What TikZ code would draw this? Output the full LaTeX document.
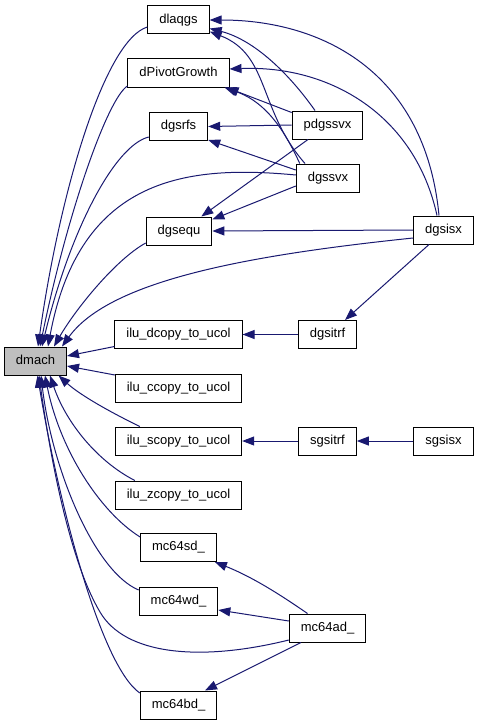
\documentclass[tikz,border=0pt]{standalone}
\usepackage{fontspec}
\setmainfont{Liberation Sans}
\usetikzlibrary{arrows.meta}
\definecolor{edgeblue}{HTML}{191970}
\tikzset{
  fn/.style={draw=black, line width=1pt, fill=white, minimum height=28pt,
    inner xsep=11.5pt, inner ysep=0pt, text height=9.5pt, text depth=2.8pt,
    font=\fontsize{13pt}{15pt}\selectfont},
  call/.style={draw=edgeblue, line width=1pt, -{Triangle[length=12pt,width=9pt]}},
}
\begin{document}
\begin{tikzpicture}[x=1pt, y=-1pt]
        \useasboundingbox (0,0) rectangle (480,725);

        \node[fn, fill=gray!50] (dmach) at (35.5,361) {dmach};
        \node[fn] (dlaqgs) at (178.5,20) {dlaqgs};
        \node[fn] (dPivotGrowth) at (178.5,73) {dPivotGrowth};
        \node[fn] (dgsrfs) at (178.5,126.5) {dgsrfs};
        \node[fn] (dgsequ) at (179,231) {dgsequ};
        \node[fn] (pdgssvx) at (327.5,125) {pdgssvx};
        \node[fn] (dgssvx) at (328,178) {dgssvx};
        \node[fn] (dgsisx) at (443.5,230) {dgsisx};
        \node[fn] (iludcopy) at (178.5,334.5) {ilu\_dcopy\_to\_ucol};
        \node[fn] (dgsitrf) at (327.5,334.5) {dgsitrf};
        \node[fn] (iluccopy) at (178.5,388) {ilu\_ccopy\_to\_ucol};
        \node[fn] (iluscopy) at (178.5,441) {ilu\_scopy\_to\_ucol};
        \node[fn] (sgsitrf) at (327.5,441) {sgsitrf};
        \node[fn] (sgsisx) at (443.5,441) {sgsisx};
        \node[fn] (iluzcopy) at (178.5,495) {ilu\_zcopy\_to\_ucol};
        \node[fn] (mcsd) at (178.5,547.5) {mc64sd\_};
        \node[fn] (mcwd) at (178.5,601) {mc64wd\_};
        \node[fn] (mcad) at (327.5,628) {mc64ad\_};
        \node[fn] (mcbd) at (178.5,705) {mc64bd\_};

        % callers of dmach, from above
        \draw[call] ([yshift=-7pt]dlaqgs.west) .. controls (105,40) and (60,190) .. ([xshift=2.5pt]dmach.north);
        \draw[call] ([yshift=-13pt]dPivotGrowth.west) .. controls (108,98) and (68,210) .. ([xshift=4.5pt]dmach.north);
        \draw[call] ([yshift=-10.5pt]dgsrfs.west) .. controls (115,145) and (70,230) .. ([xshift=6.5pt]dmach.north);
        \draw[call] ([yshift=3pt]dgssvx.west) .. controls (190,165) and (80,175) .. ([xshift=12.5pt]dmach.north);
        \draw[call] ([yshift=-12pt]dgsequ.west) .. controls (115,260) and (75,310) .. ([xshift=18.5pt]dmach.north);
        \draw[call] ([yshift=-8pt]dgsisx.west) .. controls (250,255) and (110,280) .. ([xshift=26.5pt]dmach.north);

        % from the side
        \draw[call] ([yshift=-12pt]iludcopy.west) -- ([yshift=5pt]dmach.east);
        \draw[call] ([yshift=13pt]iluccopy.west) -- ([yshift=-5pt]dmach.east);

        % from below
        \draw[call] ([xshift=25pt]iluscopy.north west) .. controls (110,412) and (80,395) .. ([xshift=23pt]dmach.south);
        \draw[call] ([xshift=20pt]iluzcopy.north west) .. controls (95,460) and (65,420) .. ([xshift=14.5pt]dmach.south);
        \draw[call] ([yshift=10.5pt]mcsd.west) .. controls (100,512) and (60,450) .. ([xshift=9.5pt]dmach.south);
        \draw[call] ([yshift=11pt]mcwd.west) .. controls (95,572) and (52,470) .. ([xshift=5.5pt]dmach.south);
        \draw[call] ([yshift=-12pt]mcad.west) .. controls (200,662) and (125,655) .. (100,612)
            .. controls (72,565) and (52,470) .. ([xshift=3.5pt]dmach.south);
        \draw[call] ([yshift=12pt]mcbd.west) .. controls (100,665) and (58,500) .. ([xshift=2pt]dmach.south);

        % driver routines
        \draw[call] ([xshift=-12.5pt]pdgssvx.north) .. controls (290,75) and (255,40) .. ([yshift=6pt]dlaqgs.south east);
        \draw[call] ([xshift=-23pt]dgssvx.north) .. controls (258,110) and (270,55) .. ([yshift=3pt]dlaqgs.south east);
        \draw[call] ([xshift=-4.5pt]dgsisx.north) .. controls (425,70) and (320,20) .. (dlaqgs.east);
        \draw[call] ([xshift=-6.5pt]dgsisx.north) .. controls (415,115) and (330,65) .. ([yshift=4pt]dPivotGrowth.east);
        \draw[call] ([yshift=-2pt]pdgssvx.north west) -- ([xshift=-3pt]dPivotGrowth.south east);
        \draw[call] ([xshift=4pt]dgssvx.north west) .. controls (280,120) and (260,100) .. ([xshift=-5pt]dPivotGrowth.south east);
        \draw[call] (pdgssvx.west) -- (dgsrfs.east);
        \draw[call] ([yshift=8pt]dgssvx.west) -- ([yshift=1pt]dgsrfs.south east);
        \draw[call] ([xshift=-19.5pt]pdgssvx.south) -- ([xshift=-11pt]dgsequ.north east);
        \draw[call] ([yshift=-8pt]dgssvx.west) -- ([yshift=-3pt]dgsequ.north east);
        \draw[call] (dgsisx.west) -- (dgsequ.east);
        \draw[call] ([xshift=-14.5pt]dgsisx.south) -- ([xshift=17.5pt]dgsitrf.north);

        \foreach \from/\to in {dgsitrf/iludcopy, sgsitrf/iluscopy, sgsisx/sgsitrf}
            \draw[call] (\from) -- (\to);

        \draw[call] ([xshift=-20pt]mcad.north) .. controls (285,598) and (255,578) .. ([xshift=-2pt]mcsd.south east);
        \draw[call] ([yshift=7pt]mcad.west) -- ([yshift=-9pt]mcwd.east);
        \draw[call] ([xshift=-26.5pt]mcad.south) -- ([xshift=26.5pt]mcbd.north);
    \end{tikzpicture}
\end{document}
